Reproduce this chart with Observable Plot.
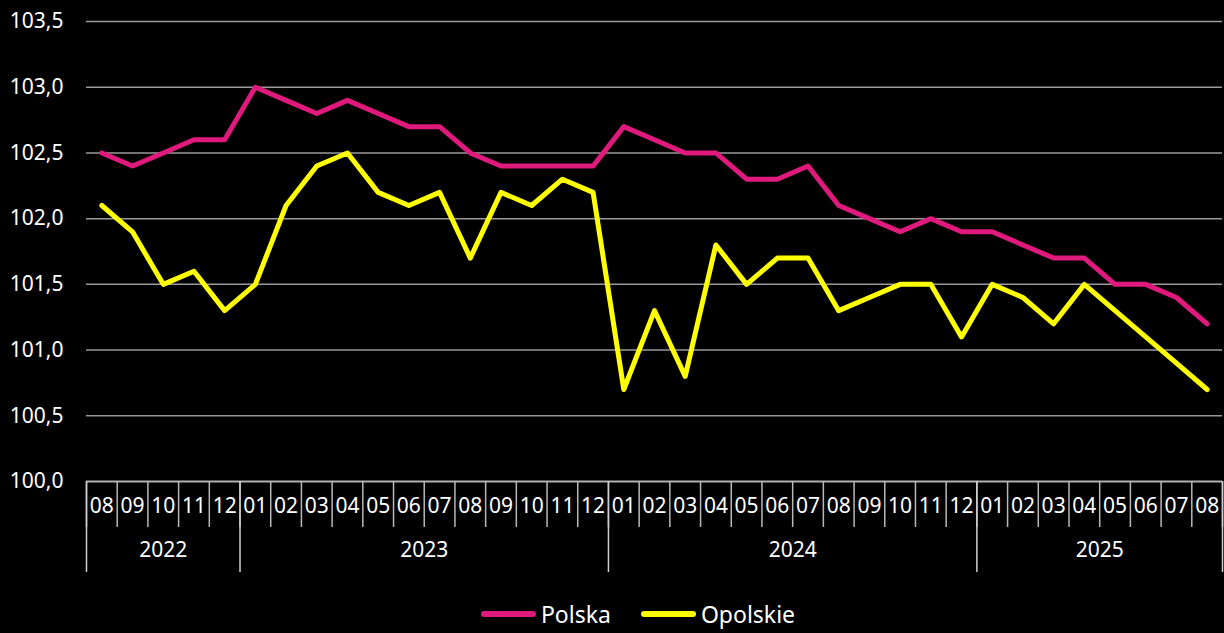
<!DOCTYPE html>
<html>
<head>
<meta charset="utf-8">
<script src="https://cdn.jsdelivr.net/npm/d3@7"></script>
<script src="https://cdn.jsdelivr.net/npm/@observablehq/plot@0.6"></script>
<style>
  html, body { margin: 0; padding: 0; background: #000; }
  body { width: 1224px; height: 633px; overflow: hidden; font-family: "Noto Sans", sans-serif; color: #fff; }
  #legend { display: flex; justify-content: center; align-items: center; height: 38px; font-size: 23px; padding-left: 52px; }
  .item { display: flex; align-items: center; margin: 0 15px; }
  .sw { width: 55px; height: 6px; border-radius: 3px; margin-right: 5px; }
</style>
</head>
<body>
<div id="chart"></div>
<div id="legend"></div>
<script>
const months = ["08","09","10","11","12",
  "01","02","03","04","05","06","07","08","09","10","11","12",
  "01","02","03","04","05","06","07","08","09","10","11","12",
  "01","02","03","04","05","06","07","08"];
const years = ["2022","2023","2024","2025"];
const yearMonthCounts = [5, 12, 12, 8];
const polska = [102.5,102.4,102.5,102.6,102.6,
  103.0,102.9,102.8,102.9,102.8,102.7,102.7,102.5,102.4,102.4,102.4,102.4,
  102.7,102.6,102.5,102.5,102.3,102.3,102.4,102.1,102.0,101.9,102.0,101.9,
  101.9,101.8,101.7,101.7,101.5,101.5,101.4,101.2];
const opolskie = [102.1,101.9,101.5,101.6,101.3,
  101.5,102.1,102.4,102.5,102.2,102.1,102.2,101.7,102.2,102.1,102.3,102.2,
  100.7,101.3,100.8,101.8,101.5,101.7,101.7,101.3,101.4,101.5,101.5,101.1,
  101.5,101.4,101.2,101.5,101.3,101.1,100.9,100.7];
const yTicks = [100.0,100.5,101.0,101.5,102.0,102.5,103.0,103.5];
const seriesNames = ["Polska","Opolskie"];
const seriesColors = ["#e0197d","#ffff00"];

// derived tables
const n = months.length;
const rows = [];
[polska, opolskie].forEach((arr, s) => arr.forEach((v, i) => rows.push({series: seriesNames[s], i: i + 0.5, v})));
const monthRows = months.map((m, i) => ({m, x: i + 0.5}));
const yearRows = [];
let acc = 0;
const yearBounds = [0];
years.forEach((y, k) => {
  yearRows.push({y, x: acc + yearMonthCounts[k] / 2});
  acc += yearMonthCounts[k];
  yearBounds.push(acc);
});
const monthBounds = d3.range(n + 1);

const fmt = d => d.toFixed(1).replace(".", ",");

const chart = Plot.plot({
  width: 1224,
  height: 595,
  marginLeft: 86,
  marginRight: 2,
  marginTop: 21,
  marginBottom: 114,
  style: {background: "#000", color: "#fff", fontFamily: "Noto Sans, sans-serif", fontSize: "21px"},
  x: {domain: [0, n], axis: null},
  y: {domain: [100, 103.5], axis: null},
  color: {domain: seriesNames, range: seriesColors},
  marks: [
    Plot.ruleY(yTicks.filter(d => d > 100), {stroke: "#9a9a9a", strokeWidth: 1.5}),
    Plot.ruleY([100], {stroke: "#b0b0b0", strokeWidth: 2}),
    Plot.axisY({ticks: yTicks, tickFormat: fmt, tickSize: 0, tickPadding: 23, fontSize: 21, fill: "#fff", label: null}),
    Plot.axisX({ticks: monthBounds, tickSize: 46, tickFormat: () => "", stroke: "#b8b8b8", strokeWidth: 1.5, label: null}),
    Plot.axisX({ticks: yearBounds, tickSize: 91, tickFormat: () => "", stroke: "#d0d0d0", strokeWidth: 1.5, label: null}),
    Plot.text(monthRows, {x: "x", text: "m", frameAnchor: "bottom", dy: 31, fill: "#fff", fontSize: 21}),
    Plot.text(yearRows, {x: "x", text: "y", frameAnchor: "bottom", dy: 75, fill: "#fff", fontSize: 21}),
    Plot.line(rows, {x: "i", y: "v", z: "series", stroke: "series", strokeWidth: 5, strokeLinejoin: "round", strokeLinecap: "round"})
  ]
});
document.getElementById("chart").appendChild(chart);

const legend = document.getElementById("legend");
seriesNames.forEach((name, k) => {
  const item = document.createElement("div");
  item.className = "item";
  const sw = document.createElement("div");
  sw.className = "sw";
  sw.style.background = seriesColors[k];
  const t = document.createElement("span");
  t.textContent = name;
  item.appendChild(sw);
  item.appendChild(t);
  legend.appendChild(item);
});
</script>
</body>
</html>
